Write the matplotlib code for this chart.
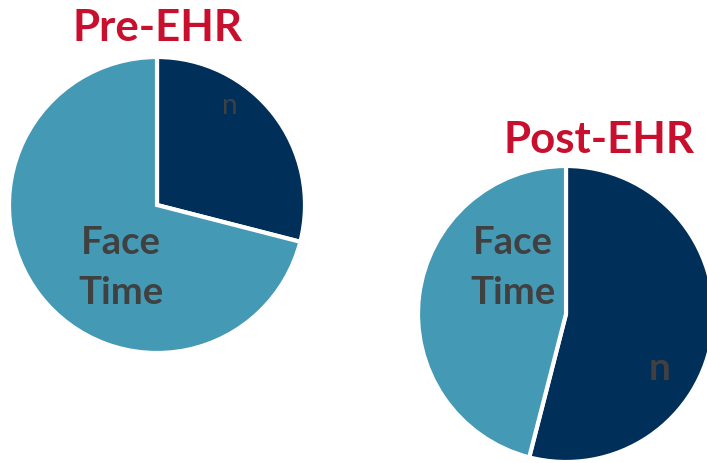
import matplotlib
matplotlib.use('Agg')
import matplotlib.pyplot as plt

# slice shares (dark = "n", light = Face Time)
titles = ['Pre-EHR', 'Post-EHR']
pre_vals = [29, 71]
post_vals = [54, 46]

dark = '#002F5A'
light = '#4499B5'
red = '#C8102E'
grey = '#404040'

W, H = 707, 464
fig = plt.figure(figsize=(W/100, H/100), dpi=100)
plt.rcParams['font.family'] = ['Lato', 'DejaVu Sans']

def px(x, y):
    return x / W, 1 - y / H

def draw_pie(cx, cy, r, vals):
    ax = fig.add_axes([(cx - r) / W, 1 - (cy + r) / H, 2*r / W, 2*r / H])
    ax.pie(vals, colors=[dark, light], startangle=90, counterclock=False,
           wedgeprops=dict(edgecolor='white', linewidth=3))
    ax.set_xlim(-1, 1)
    ax.set_ylim(-1, 1)
    ax.set_aspect('auto')
    return ax

ax1 = draw_pie(157, 206, 148, pre_vals)
ax2 = draw_pie(566, 315, 148, post_vals)

fig.text(*px(157, 28), titles[0], color=red, fontsize=31.5, fontweight='bold',
         ha='center', va='center')
fig.text(*px(599, 140), titles[1], color=red, fontsize=31.5, fontweight='bold',
         ha='center', va='center')

# labels
fig.text(*px(230, 106), 'n', color=grey, fontsize=20, ha='center', va='center')
fig.text(*px(121, 268), 'Face\nTime', color=grey, fontsize=27.5, fontweight='bold',
         ha='center', va='center', linespacing=1.55)
fig.text(*px(513, 268), 'Face\nTime', color=grey, fontsize=27.5, fontweight='bold',
         ha='center', va='center', linespacing=1.55)
fig.text(*px(660, 368), 'n', color=grey, fontsize=28, fontweight='bold',
         ha='center', va='center')

fig.savefig('out.png', dpi=100)
